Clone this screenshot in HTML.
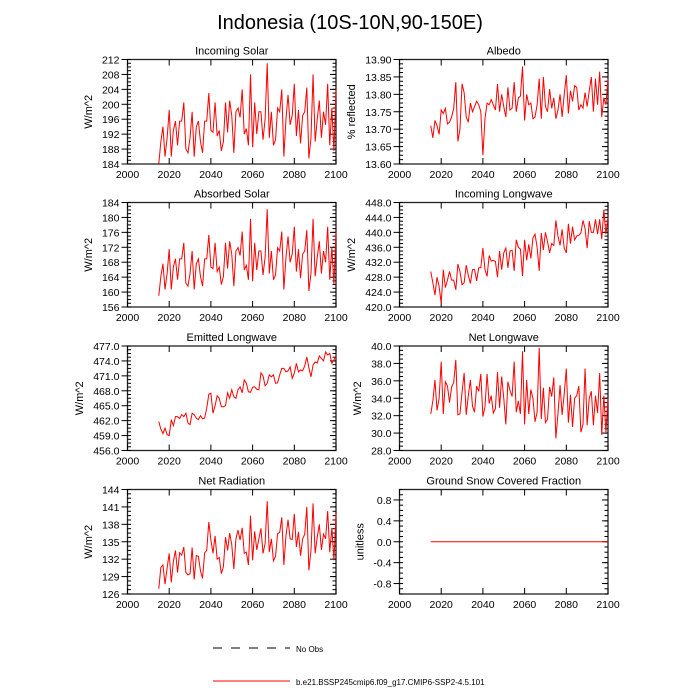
<!DOCTYPE html>
<html><head><meta charset="utf-8"><style>
html,body{margin:0;padding:0;background:#fff;}
svg{display:block;font-family:"Liberation Sans",sans-serif;}
</style></head><body>
<svg id="chart" width="700" height="700" viewBox="0 0 700 700">
<text x="350" y="29" font-size="20" text-anchor="middle">Indonesia (10S-10N,90-150E)</text>
<g>
<line x1="213" y1="648" x2="290" y2="648" stroke="#000" stroke-width="1" stroke-dasharray="9,9"/>
<text x="296" y="652" font-size="8">No Obs</text>
<line x1="213" y1="681" x2="290" y2="681" stroke="#f00" stroke-width="1"/>
<text x="296" y="685" font-size="8">b.e21.BSSP245cmip6.f09_g17.CMIP6-SSP2-4.5.101</text>
</g>
</svg>
<script>
const years=[];for(let y=2015;y<=2100;y++)years.push(y);
const xTicks=[2000,2020,2040,2060,2080,2100];
const incomingSolar=[184,190,194,186,191,198.5,186,193,195.5,189,195.5,195.5,200.5,188,187,191,198,186,194,195.5,190,187,195.5,195.5,203,193,192.5,200.5,191.5,193,187.5,190,200.5,192.5,201,197,187,198,199,196.5,204,192,193.5,189,208,188.5,200.5,192,198,198,190.5,196,211,191,198,189,190.5,199,198,204,186,196,202.5,194.5,197,205.5,191.5,198.5,189.5,197,198,204.5,185.5,191,208,190,196,201,191,198,194.5,205.5,189,199,187.5,204];
const albedo=[13.71,13.675,13.725,13.71,13.685,13.755,13.745,13.76,13.715,13.72,13.735,13.76,13.835,13.665,13.70,13.83,13.805,13.735,13.72,13.775,13.75,13.765,13.78,13.77,13.75,13.625,13.73,13.775,13.77,13.785,13.77,13.755,13.83,13.75,13.80,13.765,13.735,13.82,13.755,13.76,13.835,13.75,13.79,13.795,13.88,13.725,13.80,13.77,13.775,13.73,13.735,13.77,13.845,13.73,13.85,13.765,13.75,13.815,13.76,13.79,13.73,13.755,13.80,13.735,13.80,13.855,13.745,13.81,13.78,13.825,13.82,13.755,13.77,13.76,13.805,13.765,13.81,13.85,13.75,13.845,13.77,13.865,13.735,13.79,13.77,13.845];
const absorbedSolar=[159,164.2,167.6,160.7,165.0,171.5,160.7,166.7,168.9,163.3,168.9,168.9,173.2,162.4,161.6,165.0,171.0,160.7,167.6,168.9,164.2,161.6,168.9,168.9,175.3,166.7,166.3,173.2,165.5,166.7,162.0,164.2,173.2,166.3,173.6,170.2,161.6,171.0,171.9,169.8,176.2,165.9,167.2,163.3,179.6,162.9,173.2,165.9,171.0,171.0,164.6,169.3,182.2,165.0,171.0,163.3,164.6,171.9,171.0,176.2,160.7,169.3,174.9,168.0,170.2,177.5,165.5,171.5,163.7,170.2,171.0,176.6,160.3,165.0,179.6,164.2,169.3,173.6,165.0,171.0,168.0,177.5,163.3,171.9,162.0,176.2];
const incomingLW=[429.5,426.5,423.2,428.0,425.5,421.0,430.0,425.2,427.2,429.5,427.2,427.2,424.6,431.5,429.5,426.0,426.5,431.2,428.5,426.3,430.0,430.0,427.0,430.5,430.5,435.8,430.0,428.2,433.8,432.3,432.5,432.2,428.0,435.0,430.0,434.5,435.8,430.5,435.0,435.2,429.7,438.0,436.0,435.5,428.3,438.0,432.5,436.8,433.0,438.5,439.5,436.0,429.7,439.8,435.3,440.0,437.5,434.5,437.0,436.5,443.2,439.0,436.5,440.8,435.8,434.5,442.3,437.0,441.5,438.0,439.0,439.2,439.8,443.2,441.0,435.8,443.0,440.0,440.0,443.5,439.5,443.5,438.2,446.0,439.5,444.0];
const emittedLW=[461.8,460.3,459.4,460.5,459.2,459.0,462.2,461.0,462.8,462.8,462.4,463.2,462.8,463.5,461.5,461.2,463.5,463.2,462.5,462.2,463.0,462.4,462.5,464.5,467.3,467.5,463.5,465.0,467.0,466.5,464.8,464.8,465.0,467.6,466.5,468.2,466.8,466.5,468.2,468.8,467.6,470.2,469.5,467.8,467.7,468.7,468.8,468.3,468.2,471.6,471.0,469.0,469.5,471.2,470.8,471.2,469.5,469.6,471.2,472.5,472.5,471.8,472.0,472.8,470.5,471.5,473.5,471.8,472.2,472.0,473.0,474.8,472.6,470.8,473.2,473.8,473.6,475.0,474.5,474.0,475.8,475.2,475.5,473.5,474.2,475.0];
const netLW=[32.2,33.7,36.1,32.6,34.0,38.2,32.2,35.9,35.4,33.5,35.3,35.8,38.4,32.1,32.2,34.7,36.9,32.1,34.3,36.1,33.1,32.4,35.4,34.8,36.8,31.9,33.0,36.8,33.4,34.3,32.3,32.8,37.0,32.9,36.5,34.0,31.0,35.9,34.9,34.2,38.2,32.4,33.7,32.2,39.4,31.0,36.1,32.2,35.0,34.0,31.3,32.4,39.8,31.6,35.2,31.2,31.6,35.3,34.2,36.4,29.4,32.2,35.5,32.1,34.5,37.4,31.2,34.4,30.7,34.0,34.3,35.4,30.1,31.0,37.4,30.9,34.0,34.8,30.9,34.3,32.3,36.9,29.8,34.3,30.1,34.0];
const netRad=[126.9,130.6,131.0,127.7,130.5,133.0,128.0,131.6,133.5,129.7,133.1,132.7,134.1,129.7,129.3,129.5,134.0,128.5,132.6,132.5,130.0,128.7,133.1,133.5,138.4,135.3,133.0,136.0,132.0,132.3,129.5,130.7,135.8,133.5,136.5,134.5,130.3,135.5,137.0,135.3,137.4,133.0,133.2,131.0,139.5,131.8,136.8,133.6,135.5,137.3,133.0,134.7,142.0,133.2,135.5,131.7,132.5,136.4,136.6,139.2,131.0,136.0,138.8,135.5,135.4,139.8,134.1,136.7,132.6,135.5,136.3,141.0,130.1,133.5,141.6,133.0,135.8,138.0,133.6,136.3,135.5,140.3,133.2,137.4,131.8,139.8];
const snowFrac=years.map(()=>0);
const ticksSolar=["184","188","192","196","200","204","208","212"];
const ticksAlbedo=["13.60","13.65","13.70","13.75","13.80","13.85","13.90"];
const ticksAbs=["156","160","164","168","172","176","180","184"];
const ticksILW=["420.0","424.0","428.0","432.0","436.0","440.0","444.0","448.0"];
const ticksELW=["456.0","459.0","462.0","465.0","468.0","471.0","474.0","477.0"];
const ticksNLW=["28.0","30.0","32.0","34.0","36.0","38.0","40.0"];
const ticksNR=["126","129","132","135","138","141","144"];
const ticksSnow=["-0.8","-0.4","0.0","0.4","0.8"];

const panels=[
 {name:"incoming-solar",title:"Incoming Solar",yt:"W/m^2",col:0,row:0,data:incomingSolar,ticks:ticksSolar,min:184,max:212},
 {name:"albedo",title:"Albedo",yt:"% reflected",col:1,row:0,data:albedo,ticks:ticksAlbedo,min:13.6,max:13.9},
 {name:"absorbed-solar",title:"Absorbed Solar",yt:"W/m^2",col:0,row:1,data:absorbedSolar,ticks:ticksAbs,min:156,max:184},
 {name:"incoming-longwave",title:"Incoming Longwave",yt:"W/m^2",col:1,row:1,data:incomingLW,ticks:ticksILW,min:420,max:448},
 {name:"emitted-longwave",title:"Emitted Longwave",yt:"W/m^2",col:0,row:2,data:emittedLW,ticks:ticksELW,min:456,max:477},
 {name:"net-longwave",title:"Net Longwave",yt:"W/m^2",col:1,row:2,data:netLW,ticks:ticksNLW,min:28,max:40},
 {name:"net-radiation",title:"Net Radiation",yt:"W/m^2",col:0,row:3,data:netRad,ticks:ticksNR,min:126,max:144},
 {name:"ground-snow",title:"Ground Snow Covered Fraction",yt:"unitless",col:1,row:3,data:snowFrac,ticks:ticksSnow,min:-1,max:1},
];
const NS="http://www.w3.org/2000/svg";
const svg=document.getElementById('chart');
function mk(tag,attrs,parent){const e=document.createElementNS(NS,tag);for(const k in attrs)e.setAttribute(k,attrs[k]);parent.appendChild(e);return e;}
const lefts=[127.5,399.5],W=208.5,H=104.5,tops=[59.5,202.5,346,489.5];
panels.forEach(p=>{
 const L=lefts[p.col],T=tops[p.row],R=L+W,B=T+H;
 const g=mk('g',{},svg);
 
 
 const xs=v=>L+(v-2000)/100*W;
 const ys=v=>B-(v-p.min)/(p.max-p.min)*H;
 const t=mk('text',{x:(L+R)/2,y:T-5,'font-size':11,'text-anchor':'middle'},g);
 t.textContent=p.title;
 
 
 const fr=mk('rect',{x:L,y:T,width:W,height:H,fill:'none',stroke:'#222','stroke-width':1.3},g);
 
 
 xTicks.forEach(v=>{const x=xs(v);
  mk('line',{x1:x,x2:x,y1:B,y2:B-6,stroke:'#000'},g);
  mk('line',{x1:x,x2:x,y1:T,y2:T+6,stroke:'#000'},g);
  const tl=mk('text',{x:x,y:B+14,'font-size':10.5,'text-anchor':'middle'},g);
  tl.textContent=v;
  
  
 });
 const nums=p.ticks.map(Number);const step=nums[1]-nums[0];
 for(let v=p.min;v<=p.max+1e-9;v+=step/4){const y=ys(v);
  mk('line',{x1:L,x2:L+3.5,y1:y,y2:y,stroke:'#000'},g);
  mk('line',{x1:R,x2:R-3.5,y1:y,y2:y,stroke:'#000'},g);}
 const lx=L-8;
 let maxW=0;
 p.ticks.forEach((s,i)=>{const y=ys(nums[i]);
  mk('line',{x1:L,x2:L-6,y1:y,y2:y,stroke:'#000'},g);
  mk('line',{x1:R,x2:R-6,y1:y,y2:y,stroke:'#000'},g);
  const tl=mk('text',{x:lx,y:y+4,'font-size':10.5,'text-anchor':'end'},g);
  tl.textContent=s;
  
  
  maxW=Math.max(maxW,tl.getComputedTextLength());
 });
 const yx=lx-maxW-10;
 const yt=mk('text',{x:yx,y:(T+B)/2,'font-size':11,'text-anchor':'middle',transform:`rotate(-90 ${yx} ${(T+B)/2})`},g);
 yt.textContent=p.yt;
 
 
 const pts=p.data.map((v,i)=>xs(years[i]).toFixed(2)+','+ys(v).toFixed(2)).join(' ');
 const pl=mk('polyline',{points:pts,fill:'none',stroke:'#f00','stroke-width':1},g);
 
 
});
</script>
</body></html>
